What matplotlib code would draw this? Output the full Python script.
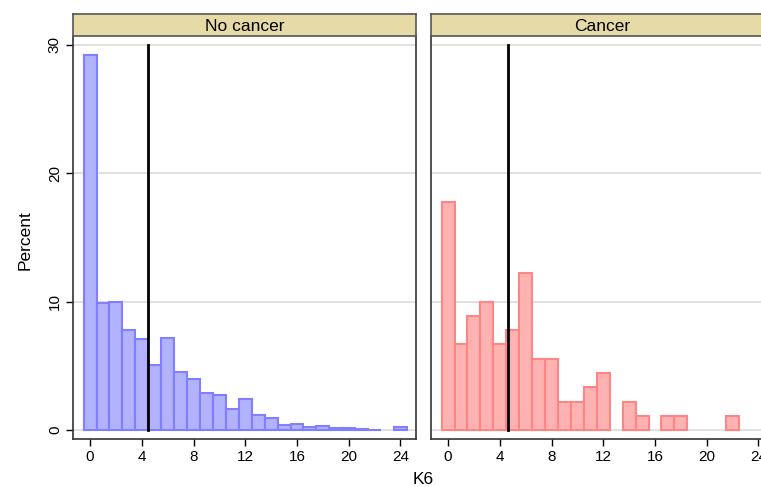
"""
K6 histogram by cancer status (Stata-style two-panel layout)
"""

import numpy as np
import matplotlib
matplotlib.use('Agg')
import matplotlib.pyplot as plt

plt.rcParams['font.family'] = ['Liberation Sans', 'DejaVu Sans']

# ── Data (percent of respondents per K6 score) ────────────────────────────────
k6_scores = np.arange(0, 25)
pct_no_cancer = [29.2, 9.9, 9.95, 7.8, 7.1, 5.1, 7.2, 4.55, 3.95, 2.9, 2.75,
                 1.6, 2.45, 1.15, 0.9, 0.4, 0.5, 0.2, 0.3, 0.13, 0.16,
                 0.05, 0.03, 0.0, 0.23]
pct_cancer = [17.78, 6.67, 8.89, 10.0, 6.67, 7.78, 12.22, 5.56, 5.56, 2.22, 2.22,
              3.33, 4.44, 0.0, 2.22, 1.11, 0.0, 1.11, 1.11, 0.0, 0.0,
              0.0, 1.11, 0.0, 0.0]
mean_no_cancer = 4.46
mean_cancer = 4.65

panel_titles = ['No cancer', 'Cancer']
x_ticks = [0, 4, 8, 12, 16, 20, 24]
y_ticks = [0, 10, 20, 30]

# ── Layout ────────────────────────────────────────────────────────────────────
W, H = 761, 487
fig = plt.figure(figsize=(W / 100, H / 100), dpi=100)

def fx(px):
    return px / W

def fy(px):
    return (H - px) / H

ax_bottom, ax_top = 439, 36
strip_top = 14
panel_lefts = [73, 431]
panel_w = 343

panels = [
    (pct_no_cancer, mean_no_cancer, '#b2b2ff', '#8080ff'),
    (pct_cancer, mean_cancer, '#ffb2b2', '#ff8585'),
]

for i, ((vals, mean, fc, ec), title, left) in enumerate(zip(panels, panel_titles, panel_lefts)):
    ax = fig.add_axes([fx(left), fy(ax_bottom), fx(panel_w), (ax_bottom - ax_top) / H])
    vals = np.array(vals)
    keep = vals > 0
    ax.bar(k6_scores[keep], vals[keep], width=1.0, color=fc, edgecolor=ec,
           linewidth=1.5, zorder=2)
    ax.plot([mean, mean], [0, 30], color='black', lw=2, zorder=3)

    ax.set_xlim(-1.32, 25.2)
    ax.set_ylim(-0.7, 30.7)
    ax.set_yticks(y_ticks)
    ax.yaxis.grid(True, color='#dcdcdc', lw=1.2, zorder=0)
    ax.set_axisbelow(True)

    ax.set_xticks(x_ticks)
    ax.tick_params(axis='x', direction='out', length=5, width=1, labelsize=11,
                   colors='black', pad=3)
    for s in ['left', 'right', 'bottom', 'top']:
        ax.spines[s].set_color('#333333')
        ax.spines[s].set_linewidth(1.2)
    ax.spines['top'].set_visible(False)

    if i == 0:
        ax.tick_params(axis='y', direction='out', length=5, width=1, labelsize=11, pad=3)
        for lab in ax.get_yticklabels():
            lab.set_rotation(90)
            lab.set_va('center')
    else:
        ax.tick_params(axis='y', length=0, labelleft=False)

    # strip title
    sax = fig.add_axes([fx(left), fy(ax_top), fx(panel_w), (ax_top - strip_top) / H])
    sax.set_facecolor('#e6dba6')
    sax.set_xticks([])
    sax.set_yticks([])
    for s in sax.spines.values():
        s.set_color('#555555')
        s.set_linewidth(1.2)
    sax.text(0.5, 0.45, title, ha='center', va='center', fontsize=12.5,
             transform=sax.transAxes)

fig.text(fx(423), fy(479), 'K6', ha='center', va='center', fontsize=12.5)
fig.text(fx(25), fy(240), 'Percent', ha='center', va='center', rotation=90, fontsize=12.5)

plt.savefig('out.png', dpi=100)
